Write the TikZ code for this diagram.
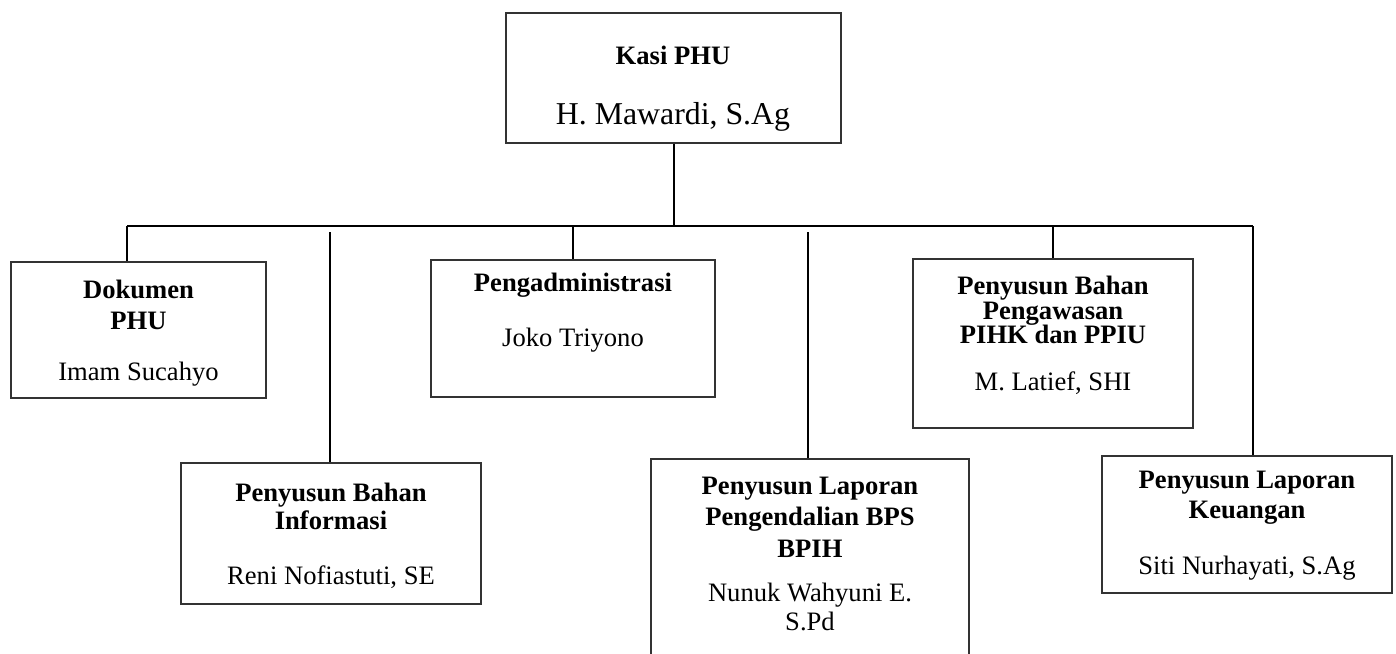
\documentclass[tikz,border=0pt]{standalone}
\usepackage{fontspec}
\setmainfont{Liberation Serif}
\begin{document}
\begin{tikzpicture}[x=0.5pt, y=-0.5pt,
    unitbox/.style={draw=black!80, line width=0.6pt, rectangle, inner sep=0pt},
    title/.style={font=\fontsize{13.3}{15.5}\selectfont\bfseries, align=center, inner sep=0pt},
    person/.style={font=\fontsize{13.3}{15}\selectfont, align=center, inner sep=0pt},
    link/.style={draw=black, line width=1pt}]

    \useasboundingbox (0,0) rectangle (1396,653);

    % Kasi PHU
    \node[unitbox, minimum width=167.5pt, minimum height=65pt] (kasi) at (673.5,78) {};
    \node[title] (kasiT) at (673,55) {Kasi PHU};
    \node[person, font=\fontsize{15.9}{18}\selectfont] (kasiN) at (673,117) {H. Mawardi, S.Ag};

    % Dokumen PHU
    \node[unitbox, minimum width=127.5pt, minimum height=68pt] (dok) at (138.5,330) {};
    \node[title] (dokT) at (138.5,305) {Dokumen\\PHU};
    \node[person] (dokN) at (138.5,374) {Imam Sucahyo};

    % Penyusun Bahan Informasi
    \node[unitbox, minimum width=150pt, minimum height=70.5pt] (info) at (331,533.5) {};
    \node[title, font=\fontsize{13.3}{14}\selectfont\bfseries] (infoT) at (331,506) {Penyusun Bahan\\Informasi};
    \node[person] (infoN) at (331,577) {Reni Nofiastuti, SE};

    % Pengadministrasi
    \node[unitbox, minimum width=142pt, minimum height=68.5pt] (adm) at (573,328.5) {};
    \node[title] (admT) at (573,285) {Pengadministrasi};
    \node[person] (admN) at (573,340) {Joko Triyono};

    % Penyusun Laporan Pengendalian BPS BPIH
    \begin{scope}
        \clip (0,0) rectangle (1396,653);
        \node[unitbox, minimum width=159pt, minimum height=103pt] (bps) at (810,562) {};
    \end{scope}
    \node[title, font=\fontsize{13.3}{15.8}\selectfont\bfseries] (bpsT) at (810,517) {Penyusun Laporan\\Pengendalian BPS\\BPIH};
    \node[person, font=\fontsize{13.3}{14.5}\selectfont] (bpsN) at (810,607) {Nunuk Wahyuni E.\\S.Pd};

    % Penyusun Bahan Pengawasan PIHK dan PPIU
    \node[unitbox, minimum width=140pt, minimum height=84.5pt] (awas) at (1053,343.5) {};
    \node[title, font=\fontsize{13.3}{12.3}\selectfont\bfseries] (awasT) at (1053,310) {Penyusun Bahan\\Pengawasan\\PIHK dan PPIU};
    \node[person] (awasN) at (1053,383) {M. Latief, SHI};

    % Penyusun Laporan Keuangan
    \node[unitbox, minimum width=145pt, minimum height=68.5pt] (keu) at (1247,524.5) {};
    \node[title, font=\fontsize{13.3}{15}\selectfont\bfseries] (keuT) at (1247,498) {Penyusun Laporan\\Keuangan};
    \node[person] (keuN) at (1247,568) {Siti Nurhayati, S.Ag};

    % connectors
    \coordinate (busL) at (127,226);
    \coordinate (busR) at (1253,226);
    \coordinate (infoTop) at (330,232);
    \coordinate (bpsTop) at (808,232);
    \draw[link] (busL) -- (busR);
    \draw[link] (kasi.south) -- (kasi.south |- busL);
    \draw[link] (busL) -- (busL |- dok.north);
    \draw[link] (infoTop) -- (infoTop |- info.north);
    \draw[link] (adm.north |- busL) -- (adm.north);
    \draw[link] (bpsTop) -- (bpsTop |- bps.north);
    \draw[link] (awas.north |- busL) -- (awas.north);
    \draw[link] (busR) -- (busR |- keu.north);

\end{tikzpicture}
\end{document}
